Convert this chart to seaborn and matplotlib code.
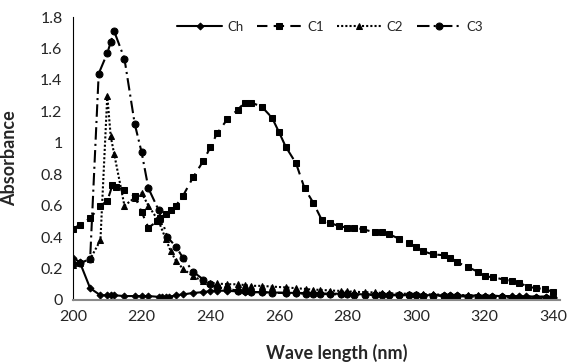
import numpy as np
import pandas as pd
import matplotlib
matplotlib.use("Agg")
import matplotlib.pyplot as plt
import seaborn as sns

# wavelength (nm) / absorbance
ch_x = [200, 202, 205, 208, 210, 211, 212, 215, 218, 220, 222, 225, 226, 227, 228, 230, 232, 235, 238, 240,
        242, 245, 248, 250, 252, 255, 258, 262, 265, 268, 270, 272, 275, 278, 280, 282, 285, 288, 290, 292,
        295, 298, 300, 302, 305, 308, 310, 312, 315, 318, 320, 322, 325, 328, 330, 332, 335, 338, 340]
ch_y = [0.27, 0.24, 0.075, 0.03, 0.03, 0.03, 0.03, 0.025, 0.025, 0.025, 0.025, 0.02, 0.02, 0.02, 0.02, 0.03,
        0.035, 0.045, 0.05, 0.057, 0.06, 0.058, 0.055, 0.053, 0.05, 0.05, 0.048, 0.046, 0.045, 0.044, 0.043,
        0.042, 0.04, 0.04, 0.038, 0.037, 0.036, 0.035, 0.035, 0.034, 0.033, 0.032, 0.032, 0.031, 0.03, 0.03,
        0.03, 0.029, 0.028, 0.028, 0.027, 0.026, 0.025, 0.025, 0.024, 0.023, 0.022, 0.021, 0.02]

c1_x = [200, 202, 205, 208, 210, 211.5, 212.5, 215, 218, 220, 222, 224.5, 225.5, 227, 228.5, 230, 232, 235,
        238, 240, 242, 245, 248, 250, 252, 255, 258, 260, 262, 265, 267.5, 270, 272.5, 275, 277.5, 280, 282,
        284.5, 288, 290, 292, 295, 298, 300, 302, 305, 308, 310, 312, 315, 318, 320, 322.5, 325.5, 328, 330,
        332.5, 335, 337.5, 340]
c1_y = [0.45, 0.48, 0.52, 0.60, 0.63, 0.73, 0.72, 0.70, 0.66, 0.56, 0.46, 0.50, 0.52, 0.55, 0.57, 0.60, 0.66,
        0.78, 0.885, 0.97, 1.06, 1.15, 1.21, 1.255, 1.255, 1.23, 1.16, 1.07, 0.975, 0.87, 0.71, 0.62, 0.51,
        0.49, 0.47, 0.46, 0.46, 0.45, 0.43, 0.43, 0.42, 0.39, 0.36, 0.34, 0.31, 0.29, 0.285, 0.27, 0.24, 0.21,
        0.18, 0.15, 0.145, 0.13, 0.12, 0.11, 0.085, 0.075, 0.07, 0.05]

c2_x = [200, 202, 205, 208, 210, 211, 212, 215, 218, 220, 222, 225, 227, 228.5, 230, 232, 235, 238, 240, 242,
        245, 248, 250, 252, 255, 258, 262, 265, 268, 270, 272, 275, 278, 280, 282, 285, 288, 290, 292, 295,
        298, 300, 302, 305, 308, 310, 312, 315, 318, 320, 322, 325, 328, 330, 332, 335, 338, 340]
c2_y = [0.22, 0.235, 0.26, 0.38, 1.30, 1.04, 0.93, 0.60, 0.65, 0.68, 0.60, 0.50, 0.39, 0.31, 0.25, 0.20, 0.15,
        0.12, 0.11, 0.105, 0.10, 0.10, 0.095, 0.09, 0.09, 0.085, 0.08, 0.075, 0.07, 0.065, 0.065, 0.06, 0.058,
        0.055, 0.052, 0.05, 0.048, 0.045, 0.043, 0.04, 0.04, 0.038, 0.037, 0.035, 0.034, 0.033, 0.032, 0.03,
        0.03, 0.028, 0.027, 0.025, 0.024, 0.022, 0.021, 0.02, 0.02, 0.019]

c3_x = [200, 202, 205, 207.5, 210, 211, 212, 215, 218, 220, 222, 225, 227.5, 230, 232, 235, 238, 240, 242, 245,
        248, 250, 252, 255, 258, 262, 265, 268, 270, 272, 275, 278, 280, 282, 285, 288, 290, 292, 295, 298,
        300, 302, 305, 308, 310, 312, 315, 318, 320, 322, 325, 328, 330, 332, 335, 338, 340]
c3_y = [0.23, 0.235, 0.26, 1.44, 1.57, 1.64, 1.71, 1.535, 1.12, 0.94, 0.71, 0.57, 0.40, 0.34, 0.27, 0.18, 0.13,
        0.10, 0.08, 0.07, 0.06, 0.055, 0.05, 0.05, 0.045, 0.045, 0.042, 0.04, 0.04, 0.038, 0.037, 0.035, 0.035,
        0.034, 0.033, 0.032, 0.031, 0.03, 0.03, 0.03, 0.029, 0.028, 0.027, 0.026, 0.025, 0.024, 0.022, 0.02,
        0.02, 0.018, 0.017, 0.015, 0.014, 0.012, 0.011, 0.01, 0.01]

x_ticks = [200, 220, 240, 260, 280, 300, 320, 340]
y_ticks = [0, 0.2, 0.4, 0.6, 0.8, 1, 1.2, 1.4, 1.6, 1.8]
y_tick_labels = ["0", "0.2", "0.4", "0.6", "0.8", "1", "1.2", "1.4", "1.6", "1.8"]

sns.set_style("white")
plt.rcParams['font.family'] = ['Lato', 'DejaVu Sans']

fig = plt.figure(figsize=(5.67, 3.62), dpi=100)
ax = fig.add_axes([0.1287, 0.1713, 0.8593, 0.7817])

# one call per series: name, x, y, marker, marker size, line style
series = [
    ("Ch", ch_x, ch_y, "D", 3.5, "-"),
    ("C1", c1_x, c1_y, "s", 5, (0, (5, 3))),
    ("C2", c2_x, c2_y, "^", 5, (0, (1, 1))),
    ("C3", c3_x, c3_y, "o", 5, (0, (6, 2, 1, 2))),
]
for name, xs, ys, mk, ms, ls in series:
    df = pd.DataFrame({"wl": xs, "abs": ys})
    sns.lineplot(data=df, x="wl", y="abs", ax=ax, color="black", marker=mk, markersize=ms,
                 markeredgecolor="black", linestyle=ls, linewidth=1.5, label=name)

ax.set_xlim(200, 342)
ax.set_ylim(0, 1.8)
ax.set_xticks(x_ticks)
ax.set_yticks(y_ticks)
ax.set_yticklabels(y_tick_labels)
ax.tick_params(axis="both", labelsize=11.5, direction="out", length=4)
ax.tick_params(axis="x", color="#888888")
ax.tick_params(axis="y", color="black")

sns.despine(ax=ax)
ax.spines["left"].set_color("black")
ax.spines["bottom"].set_color("#888888")
ax.spines["bottom"].set_linewidth(1.5)

ax.set_xlabel("Wave length (nm)", fontsize=13, fontweight="bold")
ax.set_ylabel("Absorbance", fontsize=13, fontweight="bold")
ax.xaxis.set_label_coords(0.542, -0.155)
ax.yaxis.set_label_coords(-0.112, 0.5)

ax.legend(loc="center", bbox_to_anchor=(0.528, 0.965), ncol=4, frameon=False, fontsize=9.5,
          handlelength=3.4, columnspacing=1.0, handletextpad=0.4)

fig.savefig("out.png", dpi=100)
